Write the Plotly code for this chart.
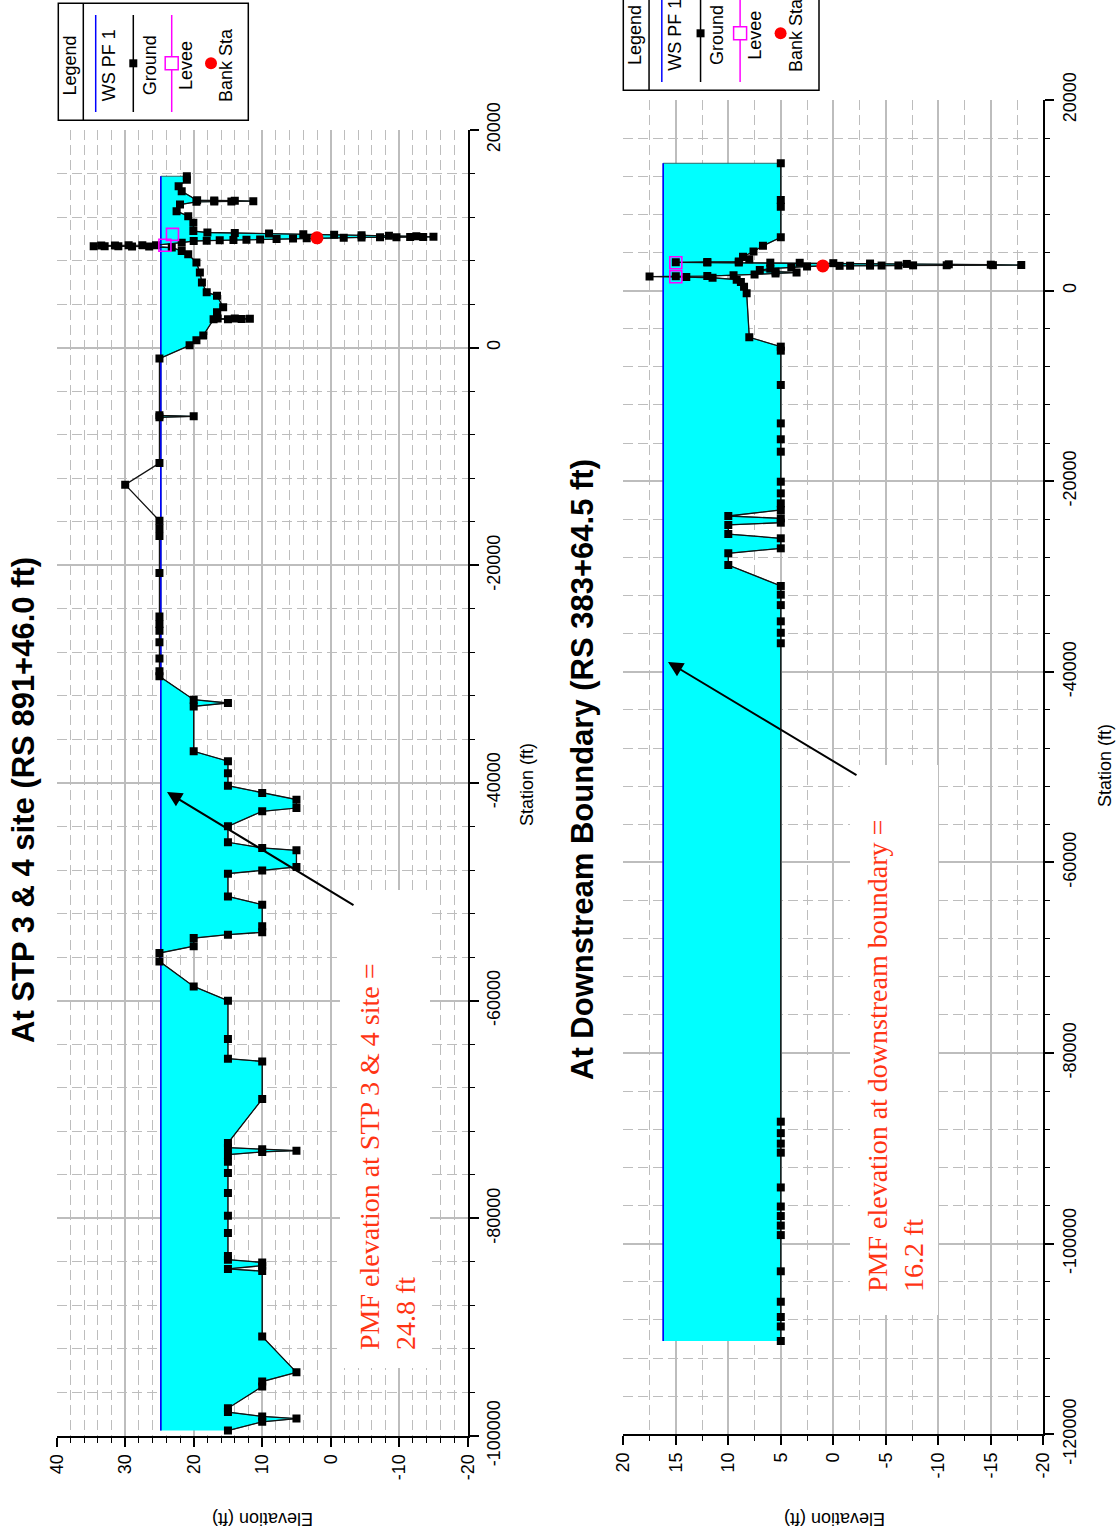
import plotly.graph_objects as go

W, H = 1117, 1535

# ---------------- data ----------------
# Upper section: At STP 3 & 4 site (RS 891+46.0 ft)
TOP_WS = 24.8
TOP_STATION = [
    -99500, -98700, -98400, -98200, -97800, -97450, -95450, -95000, -94150, -90850,
    -84850, -84650, -84350, -84050, -83800, -83450, -81350, -79760, -77680, -75840,
    -74800, -74150, -73900, -73780, -73650, -73500, -73080, -69040, -65580, -65330,
    -63520, -60000, -58690, -56390, -55620, -55000, -54250, -53940, -53720, -53170,
    -51180, -50420, -48330, -48030, -47720, -46190, -45970, -45450, -43980, -42600,
    -42300, -41530, -40920, -40250, -39100, -38000, -37090, -32960, -32650, -32350,
    -30200, -29740, -28550, -27070, -26000, -25400, -24700, -20710, -17300, -16600,
    -15900, -12590, -10600, -6400, -6310, -6220, -1000, 213, 670, 1126,
    2600, 2620, 2640, 2650, 2670, 2690, 3257, 3714, 4780, 5083,
    5997, 6910, 7823, 8584, 8888, 9193, 9290, 9300, 9310, 9320,
    9330, 9380, 9390, 9400, 9410, 9420, 9650, 9800, 9830, 9860,
    9890, 9920, 9950, 9990, 10030, 10060, 10090, 10110, 10125, 10140,
    10150, 10160, 10170, 10180, 10230, 10280, 10330, 10380, 10430, 10480,
    10530, 10580, 10715, 11476, 12085, 12540, 13150, 13400, 13420, 13440,
    13460, 13500, 13520, 13540, 14368, 14824, 15433, 15750,
]
TOP_GROUND = [
    15, 10, 5, 10, 15, 15, 10, 10, 5, 10,
    10, 15, 10, 10, 15, 15, 15, 15, 15, 15,
    15, 15, 10, 5, 10, 15, 15, 10, 10, 15,
    15, 15, 20, 25, 25, 20, 20, 15, 10, 10,
    10, 15, 15, 10, 5, 5, 10, 15, 15, 10,
    5, 5, 10, 15, 15, 15, 20, 20, 15, 20,
    25, 25, 25, 25, 25, 25, 25, 25, 25, 25,
    25, 30, 25, 25, 20, 25, 25, 20.6, 19.6, 18.6,
    17.1, 15.0, 13.0, 11.8, 14.0, 16.5, 16.6, 15.7, 16.6, 18.1,
    18.8, 19.1, 19.6, 20.8, 21.75, 23.2, 26.5, 29.0, 31.0, 33.0,
    34.6, 33.5, 31.5, 29.5, 27.5, 25.5, 21.75, 20.0, 18.1, 16.2,
    14.2, 12.3, 10.3, 7.9, 5.5, 3.5, 2.0, -1.9, -4.5, -7.2,
    -9.6, -11.6, -13.5, -15.0, -12.5, -8.5, -4.5, -0.5, 4.0, 9.0,
    14.0, 18.0, 20.05, 20.05, 20.8, 22.5, 22.0, 19.6, 17.0, 14.5,
    11.3, 14.0, 17.0, 19.5, 21.75, 22.2, 21.0, 21.0,
]
TOP_LEVEE_STATION = [9406, 10410]
TOP_LEVEE_ELEV = [24.2, 23.1]
TOP_BANK_STATION = [10090]
TOP_BANK_ELEV = [2.0]

# Lower section: At Downstream Boundary (RS 383+64.5 ft)
BOT_WS = 16.2
BOT_STATION = [
    -110200, -108700, -107700, -106100, -102900, -99100, -98100, -97100, -96100, -94100,
    -90450, -89500, -88400, -87200, -37000, -35900, -34700, -33000, -31900, -30990,
    -28790, -27560, -27040, -25990, -25540, -24590, -24350, -23890, -23650, -23020,
    -22320, -21270, -20050, -16900, -15600, -13930, -9900, -6300, -5880, -4900,
    -285, 400, 900, 1150, 1350, 1420, 1470, 1500, 1530, 1600,
    1700, 1800, 1900, 2000, 2150, 2300, 2450, 2530, 2590, 2600,
    2610, 2620, 2630, 2640, 2650, 2660, 2670, 2680, 2720, 2760,
    2800, 2840, 2880, 2920, 2935, 2945, 2955, 2965, 3000, 3050,
    3300, 3560, 4100, 4700, 5590, 8800, 9500, 13360,
]
BOT_GROUND = [
    5, 5, 5, 5, 5, 5, 5, 5, 5, 5,
    5, 5, 5, 5, 5, 5, 5, 5, 5, 5,
    10, 10, 5, 5, 10, 10, 5, 5, 10, 5,
    5, 5, 5, 5, 5, 5, 5, 5, 5, 8.0,
    8.25, 8.5, 8.8, 9.2, 11.5, 14.0, 17.5, 15.0, 12.0, 9.5,
    7.5, 5.5, 3.5, 5.5, 7.0, 6.0, 4.0, 2.5, 1.0, -0.6,
    -1.6, -3.5, -4.6, -6.2, -7.6, -10.8, -15.2, -17.9, -15.0, -11.0,
    -7.0, -3.5, 0.0, 3.2, 6.0, 9.0, 12.0, 15.0, 12.0, 9.0,
    8.0, 8.6, 7.6, 6.7, 5.0, 5.0, 5.0, 5.0,
]
BOT_LEVEE_STATION = [1460, 2930]
BOT_LEVEE_ELEV = [15.0, 15.0]
BOT_BANK_STATION = [2590]
BOT_BANK_ELEV = [1.0]

# tick labels
TOP_ELEV_TICKS = [40, 30, 20, 10, 0, -10, -20]
TOP_STATION_TICKS = [20000, 0, -20000, -40000, -60000, -80000, -100000]
BOT_ELEV_TICKS = [20, 15, 10, 5, 0, -5, -10, -15, -20]
BOT_STATION_TICKS = [20000, 0, -20000, -40000, -60000, -80000, -100000, -120000]

TITLE_TOP = "At STP 3 & 4 site (RS 891+46.0 ft)"
TITLE_BOT = "At Downstream Boundary (RS 383+64.5 ft)"
NOTE_TOP = "PMF elevation at STP 3 & 4 site =<br>24.8 ft"
NOTE_BOT = "PMF elevation at downstream boundary =<br>16.2 ft"

# ---------------- styling / geometry ----------------
SANS = "Liberation Sans"
SERIF = "Liberation Serif"
GRID = "#BDBDBD"
GRID_MINOR = "#BDBDBD"
CYAN = "#00FFFF"
NOTE_RED = "#FF3414"

# plot frames in page pixels (left, right, top, bottom)
TOP_BOX = (56.7, 467.7, 130.0, 1436.0)
BOT_BOX = (623.3, 1043.3, 100.0, 1434.3)


def px(x):
    return x / W


def py(y):
    return 1 - y / H


def water_polygon(sta, elev, ws):
    """Region between the water surface and the ground wherever the ground is lower."""
    xs, ys = [], []
    for i in range(len(sta)):
        if i > 0:
            e0, e1 = elev[i - 1], elev[i]
            if (e0 - ws) * (e1 - ws) < 0:
                t = (ws - e0) / (e1 - e0)
                xs.append(ws)
                ys.append(sta[i - 1] + t * (sta[i] - sta[i - 1]))
        xs.append(min(elev[i], ws))
        ys.append(sta[i])
    xs += [ws, ws]
    ys += [sta[-1], sta[0]]
    return xs, ys


def section_traces(sta, ground, ws, levee_s, levee_e, bank_s, bank_e, xa, ya):
    fx, fy = water_polygon(sta, ground, ws)
    return [
        go.Scatter(x=fx, y=fy, mode="lines", fill="toself", fillcolor=CYAN,
                   line=dict(color="#2E6A6A", width=1), xaxis=xa, yaxis=ya,
                   hoverinfo="skip", showlegend=False),
        go.Scatter(x=[ws, ws], y=[sta[0], sta[-1]], mode="lines",
                   line=dict(color="#0000FF", width=1.6), xaxis=xa, yaxis=ya,
                   name="WS PF 1", showlegend=False),
        go.Scatter(x=ground, y=sta, mode="lines+markers",
                   line=dict(color="#111111", width=1.3),
                   marker=dict(symbol="square", size=8, color="black"),
                   xaxis=xa, yaxis=ya, name="Ground", showlegend=False),
        go.Scatter(x=levee_e, y=levee_s, mode="markers",
                   marker=dict(symbol="square-open", size=12, color="#FF00FF",
                               line=dict(width=1.6, color="#FF00FF")),
                   xaxis=xa, yaxis=ya, name="Levee", showlegend=False),
        go.Scatter(x=bank_e, y=bank_s, mode="markers",
                   marker=dict(symbol="circle", size=13, color="#FF0000"),
                   xaxis=xa, yaxis=ya, name="Bank Sta", showlegend=False),
    ]


def elev_axis(box, rng, ticks, minor_step, anchor):
    return dict(
        domain=[px(box[0]), px(box[1])], range=rng, anchor=anchor,
        tickmode="array", tickvals=ticks, ticktext=[str(t) for t in ticks],
        tickangle=-90, ticks="outside", ticklen=9, tickwidth=1.5, tickcolor="black",
        showline=True, linecolor="black", linewidth=2,
        showgrid=True, gridcolor=GRID, gridwidth=1.5, zeroline=False,
        minor=dict(tickmode="linear", tick0=0, dtick=minor_step, ticks="outside",
                   ticklen=5, tickwidth=1.2, tickcolor="black", showgrid=True,
                   gridcolor=GRID_MINOR, gridwidth=1.4, griddash="10px,5px"),
        tickfont=dict(family=SANS, size=18, color="black"),
        fixedrange=True, automargin=False, side="bottom",
    )


def station_axis(box, rng, ticks, anchor):
    return dict(
        domain=[py(box[3]), py(box[2])], range=rng, anchor=anchor,
        tickmode="array", tickvals=ticks, ticktext=[str(t) for t in ticks],
        tickangle=-90, ticks="outside", ticklen=9, tickwidth=1.5, tickcolor="black",
        showline=True, linecolor="black", linewidth=2,
        showgrid=True, gridcolor=GRID, gridwidth=1.5, zeroline=False,
        minor=dict(tickmode="linear", tick0=0, dtick=4000, ticks="outside",
                   ticklen=5, tickwidth=1.2, tickcolor="black", showgrid=True,
                   gridcolor=GRID_MINOR, gridwidth=1.4, griddash="10px,5px"),
        tickfont=dict(family=SANS, size=18, color="black"),
        fixedrange=True, automargin=False, side="right",
    )


fig = go.Figure()
for tr in section_traces(TOP_STATION, TOP_GROUND, TOP_WS, TOP_LEVEE_STATION, TOP_LEVEE_ELEV,
                         TOP_BANK_STATION, TOP_BANK_ELEV, "x", "y"):
    fig.add_trace(tr)
for tr in section_traces(BOT_STATION, BOT_GROUND, BOT_WS, BOT_LEVEE_STATION, BOT_LEVEE_ELEV,
                         BOT_BANK_STATION, BOT_BANK_ELEV, "x2", "y2"):
    fig.add_trace(tr)

shapes = []
annotations = []


def text(x, y, s, size, angle=-90, family=SANS, color="black", bold=False, **kw):
    annotations.append(dict(
        x=px(x), y=py(y), xref="paper", yref="paper", text=s, showarrow=False,
        textangle=angle, xanchor="center", yanchor="middle",
        font=dict(family=family, size=size, color=color, weight="bold" if bold else "normal"),
        **kw))


def white_box(x0, x1, y0, y1):
    # blank panel behind a note; drawn first so notes and pointers sit on top
    annotations.append(dict(
        x=px((x0 + x1) / 2), y=py((y0 + y1) / 2), xref="paper", yref="paper",
        text=" ", showarrow=False, width=x1 - x0, height=y1 - y0,
        bgcolor="white", borderpad=0, borderwidth=0,
        xanchor="center", yanchor="middle"))


def arrow(head, tail):
    annotations.append(dict(
        x=px(head[0]), y=py(head[1]), xref="paper", yref="paper", text="",
        showarrow=True, ax=tail[0] - head[0], ay=tail[1] - head[1],
        arrowhead=2, arrowsize=1.5, arrowwidth=2, arrowcolor="black"))


def legend_box(left, top, s):
    h = 117
    w = 190 * s
    shapes.append(dict(type="rect", xref="paper", yref="paper",
                       x0=px(left), x1=px(left + w), y0=py(top + h), y1=py(top),
                       line=dict(color="black", width=1.5), fillcolor="white", layer="above"))
    shapes.append(dict(type="line", xref="paper", yref="paper",
                       x0=px(left + 25 * s), x1=px(left + 25 * s), y0=py(top), y1=py(top + h),
                       line=dict(color="black", width=1.5), layer="above"))
    text(left + 12 * s, top + 62, "Legend", 18)
    entries = [
        (37.4, 50.7, "WS PF 1", "#0000FF", None),
        (75.0, 91.7, "Ground", "black", "sq"),
        (113.4, 128.4, "Levee", "#FF00FF", "open"),
        (152.7, 168.4, "Bank Sta", None, "dot"),
    ]
    my = top + 60
    for lx, tx, label, lc, mk in entries:
        x = left + lx * s
        if lc:
            shapes.append(dict(type="line", xref="paper", yref="paper",
                               x0=px(x), x1=px(x), y0=py(top + 11.7), y1=py(top + 108.7),
                               line=dict(color=lc, width=1.5), layer="above"))
        if mk == "sq":
            shapes.append(dict(type="rect", xref="paper", yref="paper",
                               x0=px(x - 4), x1=px(x + 4), y0=py(my + 4), y1=py(my - 4),
                               fillcolor="black", line=dict(width=0), layer="above"))
        elif mk == "open":
            shapes.append(dict(type="rect", xref="paper", yref="paper",
                               x0=px(x - 6.5), x1=px(x + 6.5), y0=py(my + 6.5), y1=py(my - 6.5),
                               fillcolor="white", line=dict(color="#FF00FF", width=1.5),
                               layer="above"))
        elif mk == "dot":
            shapes.append(dict(type="circle", xref="paper", yref="paper",
                               x0=px(x - 6), x1=px(x + 6), y0=py(my + 6), y1=py(my - 6),
                               fillcolor="#FF0000", line=dict(width=0), layer="above"))
        text(left + tx * s, top + 62, label, 18)


# blank panels behind the notes
white_box(340, 430, 890, 1368)
white_box(850, 938, 765, 1315)

# titles
text(23, 800, TITLE_TOP, 31, bold=True)
text(582, 770, TITLE_BOT, 31, bold=True)
# axis titles
text(527, 785, "Station (ft)", 18)
text(1105, 766, "Station (ft)", 18)
text(263, 1519, "Elevation (ft)", 18, angle=180)
text(835, 1519, "Elevation (ft)", 18, angle=180)

# notes and pointers
annotations.append(dict(x=px(387), y=py(1156), xref="paper", yref="paper", text=NOTE_TOP,
                        showarrow=False, textangle=-90, align="left",
                        xanchor="center", yanchor="middle",
                        font=dict(family=SERIF, size=28, color=NOTE_RED)))
annotations.append(dict(x=px(895), y=py(1056), xref="paper", yref="paper", text=NOTE_BOT,
                        showarrow=False, textangle=-90, align="left",
                        xanchor="center", yanchor="middle",
                        font=dict(family=SERIF, size=28, color=NOTE_RED)))
arrow((167, 792), (355, 906))
arrow((668, 662), (858, 776))

legend_box(58.3, 3.3, 1.0)
legend_box(623.3, -26.7, 1.03)

fig.update_layout(
    width=W, height=H, autosize=False,
    margin=dict(l=0, r=0, t=0, b=0, pad=0),
    paper_bgcolor="white", plot_bgcolor="white",
    showlegend=False,
    font=dict(family=SANS, size=18, color="black"),
    xaxis=elev_axis(TOP_BOX, [40, -20], TOP_ELEV_TICKS, 2, "y"),
    yaxis=station_axis(TOP_BOX, [-100000, 20000], TOP_STATION_TICKS, "x"),
    xaxis2=elev_axis(BOT_BOX, [20, -20], BOT_ELEV_TICKS, 2.5, "y2"),
    yaxis2=station_axis(BOT_BOX, [-120000, 20000], BOT_STATION_TICKS, "x2"),
    shapes=shapes,
    annotations=annotations,
)

fig.write_html("out.html")
